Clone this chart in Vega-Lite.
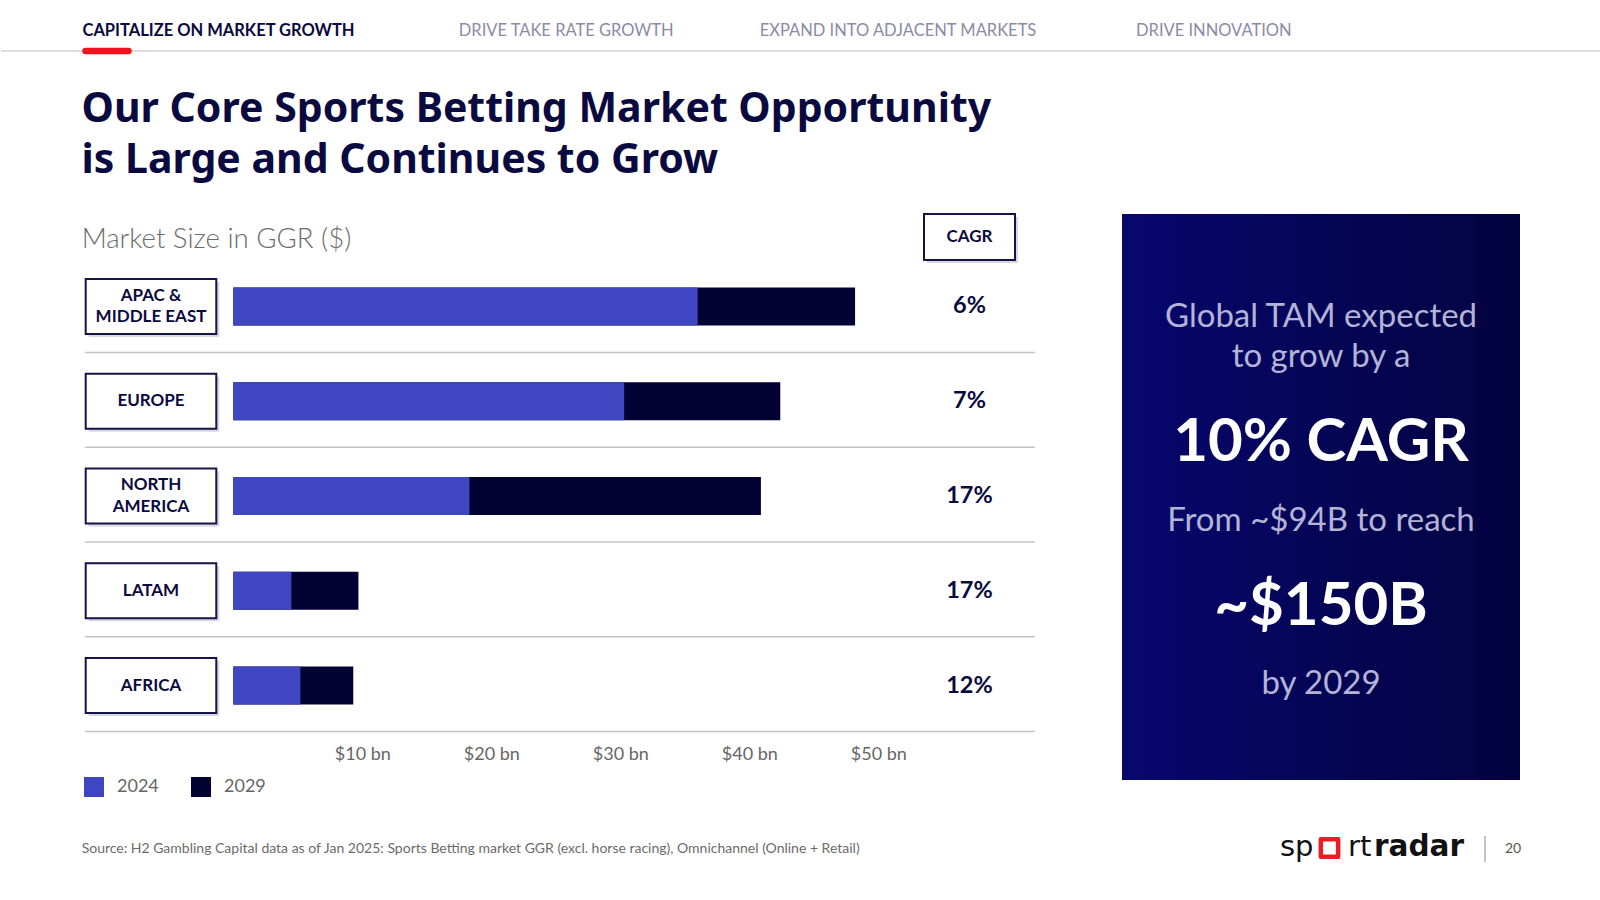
{
  "$schema": "https://vega.github.io/schema/vega-lite/v6.json",
  "background": "white",
  "padding": 0,
  "autosize": {"type": "pad"},
  "width": 1600,
  "height": 900,
  "config": {"view": {"stroke": null}, "font": "Lato"},
  "datasets": {
    "nav": [
      {"item": "CAPITALIZE ON MARKET GROWTH"},
      {"item": "DRIVE TAKE RATE GROWTH"},
      {"item": "EXPAND INTO ADJACENT MARKETS"},
      {"item": "DRIVE INNOVATION"}
    ],
    "regions": [
      {"region": "APAC &\nMIDDLE EAST", "cagr": "6%"},
      {"region": "EUROPE", "cagr": "7%"},
      {"region": "NORTH\nAMERICA", "cagr": "17%"},
      {"region": "LATAM", "cagr": "17%"},
      {"region": "AFRICA", "cagr": "12%"}
    ],
    "bars": [
      {"region": "APAC &\nMIDDLE EAST", "year": "2029", "value": 48.2},
      {"region": "EUROPE", "year": "2029", "value": 42.4},
      {"region": "NORTH\nAMERICA", "year": "2029", "value": 40.9},
      {"region": "LATAM", "year": "2029", "value": 9.7},
      {"region": "AFRICA", "year": "2029", "value": 9.3},
      {"region": "APAC &\nMIDDLE EAST", "year": "2024", "value": 36.0},
      {"region": "EUROPE", "year": "2024", "value": 30.3},
      {"region": "NORTH\nAMERICA", "year": "2024", "value": 18.3},
      {"region": "LATAM", "year": "2024", "value": 4.5},
      {"region": "AFRICA", "year": "2024", "value": 5.2}
    ],
    "panel": [
      {"line": "Global TAM expected", "kind": "text"},
      {"line": "to grow by a", "kind": "text"},
      {"line": "10% CAGR", "kind": "figure"},
      {"line": "From ~$94B to reach", "kind": "text"},
      {"line": "~$150B", "kind": "figure"},
      {"line": "by 2029", "kind": "text"}
    ],
    "logo": [
      {"part": "sp"}, {"part": "o"}, {"part": "rt"}, {"part": "radar"}
    ]
  },
  "resolve": {"scale": {"x": "independent", "y": "independent"}},
  "layer": [
    {
      "data": {"values": [{"l": "divider"}]},
      "mark": {"type": "rule", "color": "#d0d0d0", "strokeWidth": 1.5},
      "encoding": {
        "y": {"field": "l", "type": "nominal", "scale": {"type": "point", "align": 0.056667}, "axis": null}
      }
    },
    {
      "data": {"name": "nav"},
      "encoding": {
        "x": {"field": "item", "type": "nominal", "scale": {"type": "point", "domain": ["CAPITALIZE ON MARKET GROWTH", "g1", "g2", "g3", "g4", "DRIVE TAKE RATE GROWTH", "g5", "g6", "g7", "EXPAND INTO ADJACENT MARKETS", "g8", "g9", "g10", "g11", "DRIVE INNOVATION"], "range": [81.5, 1135], "padding": 0}, "axis": null}
      },
      "layer": [
        {
          "transform": [{"filter": "datum.item !== 'CAPITALIZE ON MARKET GROWTH'"}],
          "mark": {"type": "text", "align": "left", "baseline": "middle", "font": "Lato", "fontSize": 16.5, "color": "#8b8aa8"},
          "encoding": {
            "y": {"datum": "label", "type": "nominal", "scale": {"type": "point", "domain": ["label", "line"], "range": [31, 51], "padding": 0}, "axis": null},
            "text": {"field": "item"}
          }
        },
        {
          "transform": [{"filter": "datum.item === 'CAPITALIZE ON MARKET GROWTH'"}],
          "mark": {"type": "text", "align": "left", "baseline": "middle", "font": "Lato", "fontSize": 16.5, "fontWeight": "bold", "color": "#0a0a40"},
          "encoding": {
            "y": {"datum": "label", "type": "nominal", "scale": {"type": "point", "domain": ["label", "line"], "range": [31, 51], "padding": 0}, "axis": null},
            "text": {"field": "item"}
          }
        },
        {
          "transform": [{"filter": "datum.item === 'CAPITALIZE ON MARKET GROWTH'"}],
          "mark": {"type": "rule", "color": "#f0141e", "strokeWidth": 6.5, "strokeCap": "round", "xOffset": 3, "x2Offset": 46},
          "encoding": {
            "x2": {"field": "item"},
            "y": {"datum": "line", "type": "nominal", "scale": {"type": "point", "domain": ["label", "line"], "range": [31, 51], "padding": 0}, "axis": null}
          }
        }
      ]
    },
    {
      "data": {"values": [{"line": "Our Core Sports Betting Market Opportunity"}, {"line": "is Large and Continues to Grow"}]},
      "mark": {"type": "text", "align": "left", "baseline": "alphabetic", "font": "Noto Sans", "fontSize": 41, "fontWeight": "bold", "color": "#0a0a40"},
      "encoding": {
        "x": {"datum": "title", "type": "nominal", "scale": {"type": "point", "align": 0.0503}, "axis": null},
        "y": {"field": "line", "type": "nominal", "sort": null, "scale": {"type": "point", "range": [122, 173], "padding": 0}, "axis": null},
        "text": {"field": "line"}
      }
    },
    {
      "data": {"values": [{"t": "Market Size in GGR ($)"}]},
      "mark": {"type": "text", "align": "left", "baseline": "middle", "font": "Lato", "fontSize": 27.6, "fontWeight": 300, "color": "#6b6b6b"},
      "encoding": {
        "x": {"field": "t", "type": "nominal", "scale": {"type": "point", "align": 0.0504}, "axis": null},
        "y": {"field": "t", "type": "nominal", "scale": {"type": "point", "align": 0.2667}, "axis": null},
        "text": {"field": "t"}
      }
    },
    {
      "data": {"values": [{"h": "CAGR"}]},
      "encoding": {
        "x": {"field": "h", "type": "nominal", "scale": {"type": "band", "range": [923, 1014], "paddingInner": 0, "paddingOuter": 0}, "axis": null},
        "y": {"field": "h", "type": "nominal", "scale": {"type": "band", "range": [214, 260], "paddingInner": 0, "paddingOuter": 0}, "axis": null}
      },
      "layer": [
        {"mark": {"type": "rect", "fill": "#9a9aae", "opacity": 0.4, "xOffset": 3, "yOffset": 3}},
        {"mark": {"type": "rect", "fill": "white", "stroke": "#14144a", "strokeWidth": 2}},
        {"mark": {"type": "text", "font": "Lato", "fontSize": 17, "fontWeight": "bold", "color": "#0a0a40", "baseline": "middle"}, "encoding": {"text": {"field": "h"}}}
      ]
    },
    {
      "data": {"name": "regions"},
      "mark": {"type": "tick", "orient": "horizontal", "size": 950, "thickness": 1.5, "color": "#c4c4c4", "opacity": 1, "yOffset": 46},
      "encoding": {
        "x": {"datum": "sep", "type": "nominal", "scale": {"type": "point", "align": 0.34928}, "axis": null},
        "y": {"field": "region", "type": "nominal", "scale": {"type": "band", "domain": ["APAC &\nMIDDLE EAST", "EUROPE", "NORTH\nAMERICA", "LATAM", "AFRICA"], "range": [259, 733], "paddingInner": 0.59916, "paddingOuter": 0.29958}, "axis": null}
      }
    },
    {
      "data": {"name": "regions"},
      "encoding": {
        "x": {"datum": "box", "type": "nominal", "scale": {"type": "band", "range": [84.7, 215.3], "paddingInner": 0, "paddingOuter": 0}, "axis": null},
        "y": {"field": "region", "type": "nominal", "scale": {"type": "band", "domain": ["APAC &\nMIDDLE EAST", "EUROPE", "NORTH\nAMERICA", "LATAM", "AFRICA"], "range": [259, 733], "paddingInner": 0.41983, "paddingOuter": 0.209915}, "axis": null}
      },
      "layer": [
        {"mark": {"type": "rect", "fill": "#9a9aae", "opacity": 0.4, "xOffset": 3, "yOffset": 3}},
        {"mark": {"type": "rect", "fill": "white", "stroke": "#14144a", "strokeWidth": 2}},
        {
          "transform": [{"filter": "indexof(datum.region, '\\n') < 0"}],
          "mark": {"type": "text", "font": "Lato", "fontSize": 17, "fontWeight": "bold", "color": "#0a0a40", "baseline": "middle"},
          "encoding": {"text": {"field": "region"}}
        },
        {
          "transform": [{"filter": "indexof(datum.region, '\\n') >= 0"}],
          "mark": {"type": "text", "font": "Lato", "fontSize": 17, "fontWeight": "bold", "color": "#0a0a40", "baseline": "middle", "lineBreak": "\n", "lineHeight": 21.5, "dy": -10.75},
          "encoding": {"text": {"field": "region"}}
        }
      ]
    },
    {
      "data": {"name": "bars"},
      "mark": {"type": "bar"},
      "encoding": {
        "x": {
          "field": "value",
          "type": "quantitative",
          "scale": {"domain": [-18.0078, 106.023], "nice": false, "zero": false},
          "axis": {"values": [10, 20, 30, 40, 50], "labelExpr": "'$' + datum.value + ' bn'", "offset": -167, "domain": false, "ticks": false, "grid": false, "title": null, "labelFont": "Lato", "labelFontSize": 18, "labelColor": "#666666", "labelPadding": 12, "labelFlush": false}
        },
        "x2": {"datum": 0},
        "y": {"field": "region", "type": "nominal", "scale": {"type": "band", "domain": ["APAC &\nMIDDLE EAST", "EUROPE", "NORTH\nAMERICA", "LATAM", "AFRICA"], "range": [259, 733], "paddingInner": 0.59916, "paddingOuter": 0.29958}, "axis": null},
        "color": {
          "field": "year",
          "type": "nominal",
          "scale": {"domain": ["2024", "2029"], "range": ["#3f46c1", "#020233"]},
          "legend": {"orient": "none", "legendX": 83, "legendY": 777, "direction": "horizontal", "title": null, "symbolType": "square", "symbolSize": 400, "symbolStrokeWidth": 0, "symbolOpacity": 1, "labelFont": "Lato", "labelFontSize": 18, "labelColor": "#666666", "labelOffset": 13, "columnPadding": 32, "padding": 0}
        }
      }
    },
    {
      "data": {"name": "regions"},
      "mark": {"type": "text", "font": "Lato", "fontSize": 23.5, "fontWeight": "bold", "color": "#0a0a40", "baseline": "middle"},
      "encoding": {
        "x": {"datum": "cagr", "type": "nominal", "scale": {"type": "point", "align": 0.60531}, "axis": null},
        "y": {"field": "region", "type": "nominal", "scale": {"type": "band", "domain": ["APAC &\nMIDDLE EAST", "EUROPE", "NORTH\nAMERICA", "LATAM", "AFRICA"], "range": [259, 733], "paddingInner": 0.59916, "paddingOuter": 0.29958}, "axis": null},
        "text": {"field": "cagr"}
      }
    },
    {
      "data": {"values": [{"p": "panel"}]},
      "mark": {"type": "rect", "fill": {"gradient": "linear", "x1": 0, "y1": 0, "x2": 1, "y2": 0, "stops": [{"offset": 0, "color": "#07076e"}, {"offset": 1, "color": "#030340"}]}},
      "encoding": {
        "x": {"field": "p", "type": "nominal", "scale": {"type": "band", "range": [1121, 1519], "paddingInner": 0, "paddingOuter": 0}, "axis": null},
        "y": {"field": "p", "type": "nominal", "scale": {"type": "band", "range": [214, 780], "paddingInner": 0, "paddingOuter": 0}, "axis": null}
      }
    },
    {
      "data": {"name": "panel"},
      "encoding": {
        "x": {"datum": "panel", "type": "nominal", "scale": {"type": "point", "align": 0.825}, "axis": null},
        "y": {"field": "line", "type": "nominal", "scale": {"type": "point", "domain": ["Global TAM expected", "to grow by a", "gap1", "10% CAGR", "gap2", "From ~$94B to reach", "gap3", "~$150B", "gap4", "by 2029"], "range": [316.5, 683.7], "padding": 0}, "axis": null},
        "text": {"field": "line"}
      },
      "layer": [
        {
          "transform": [{"filter": "datum.kind === 'text'"}],
          "mark": {"type": "text", "font": "Lato", "fontSize": 33, "color": "#b4b4d8", "baseline": "middle"}
        },
        {
          "transform": [{"filter": "datum.kind === 'figure'"}],
          "mark": {"type": "text", "font": "Lato", "fontSize": 60, "fontWeight": "bold", "color": "white", "baseline": "middle", "dy": 4.5}
        }
      ]
    },
    {
      "data": {"values": [{"t": "Source: H2 Gambling Capital data as of Jan 2025: Sports Betting market GGR (excl. horse racing), Omnichannel (Online + Retail)"}]},
      "mark": {"type": "text", "align": "left", "baseline": "middle", "font": "Lato", "fontSize": 14, "color": "#6b6b6b"},
      "encoding": {
        "x": {"field": "t", "type": "nominal", "scale": {"type": "point", "align": 0.0504}, "axis": null},
        "y": {"field": "t", "type": "nominal", "scale": {"type": "point", "align": 0.94333}, "axis": null},
        "text": {"field": "t"}
      }
    },
    {
      "data": {"name": "logo"},
      "encoding": {
        "x": {"field": "part", "type": "nominal", "scale": {"type": "point", "domain": ["sp", "a1", "a2", "a3", "a4", "o", "b1", "b2", "rt", "c1", "c2", "c3", "radar"], "range": [1277, 1373], "padding": 0}, "axis": null},
        "y": {"datum": "logo", "type": "nominal", "scale": {"type": "point", "align": 0.94111}, "axis": null}
      },
      "layer": [
        {
          "transform": [{"filter": "datum.part === 'sp'"}],
          "mark": {"type": "text", "align": "left", "baseline": "middle", "font": "DejaVu Sans", "fontSize": 29, "color": "#111111", "xOffset": 2},
          "encoding": {"text": {"field": "part"}}
        },
        {
          "transform": [{"filter": "datum.part === 'rt'"}],
          "mark": {"type": "text", "align": "left", "baseline": "middle", "font": "DejaVu Sans", "fontSize": 29, "color": "#111111", "xOffset": 6},
          "encoding": {"text": {"field": "part"}}
        },
        {
          "transform": [{"filter": "datum.part === 'o'"}],
          "mark": {"type": "point", "shape": "square", "filled": false, "size": 300, "stroke": "#ee1c25", "strokeWidth": 4.5, "strokeJoin": "round", "opacity": 1, "xOffset": 11.5, "yOffset": 1}
        },
        {
          "transform": [{"filter": "datum.part === 'radar'"}],
          "mark": {"type": "text", "align": "left", "baseline": "middle", "font": "DejaVu Sans", "fontSize": 29.5, "fontWeight": "bold", "color": "#111111"},
          "encoding": {"text": {"field": "part"}}
        }
      ]
    },
    {
      "data": {"values": [{"s": "separator"}]},
      "mark": {"type": "tick", "orient": "vertical", "size": 26, "thickness": 1, "color": "#8a8a8a", "opacity": 1},
      "encoding": {
        "x": {"field": "s", "type": "nominal", "scale": {"type": "point", "align": 0.9275}, "axis": null},
        "y": {"field": "s", "type": "nominal", "scale": {"type": "point", "align": 0.94333}, "axis": null}
      }
    },
    {
      "data": {"values": [{"t": "20"}]},
      "mark": {"type": "text", "align": "center", "baseline": "middle", "font": "Lato", "fontSize": 14, "color": "#555555"},
      "encoding": {
        "x": {"field": "t", "type": "nominal", "scale": {"type": "point", "align": 0.945}, "axis": null},
        "y": {"field": "t", "type": "nominal", "scale": {"type": "point", "align": 0.94333}, "axis": null},
        "text": {"field": "t"}
      }
    }
  ]
}
